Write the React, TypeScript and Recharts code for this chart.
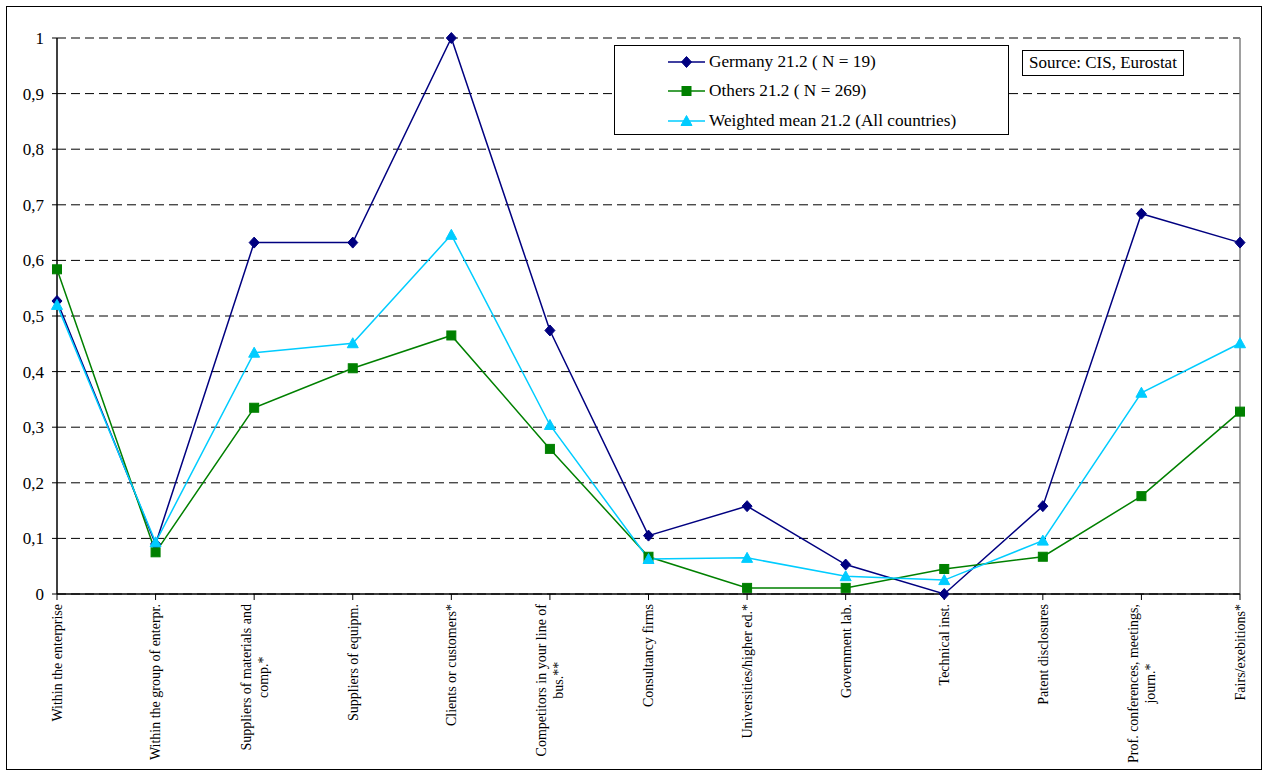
import React from "react";
import { CartesianGrid, Legend, Line, LineChart, ReferenceLine, XAxis, YAxis } from "recharts";

const categories = [
  "Within the enterprise",
  "Within the group of enterpr.",
  "Suppliers of materials and\ncomp.*",
  "Suppliers of equipm.",
  "Clients or customers*",
  "Competitors in your line of\nbus.**",
  "Consultancy firms",
  "Universities/higher ed.*",
  "Government lab.",
  "Technical inst.",
  "Patent disclosures",
  "Prof. conferences, meetings,\njourn.*",
  "Fairs/exebitions*",
];

const germany = [0.527, 0.09, 0.632, 0.632, 1.0, 0.474, 0.105, 0.158, 0.053, 0.0, 0.158, 0.684, 0.632];
const others = [0.584, 0.075, 0.335, 0.406, 0.465, 0.261, 0.067, 0.011, 0.011, 0.045, 0.067, 0.176, 0.328];
const weighted = [0.52, 0.093, 0.434, 0.451, 0.646, 0.304, 0.063, 0.065, 0.032, 0.025, 0.096, 0.362, 0.451];

const yTicks = [0, 0.1, 0.2, 0.3, 0.4, 0.5, 0.6, 0.7, 0.8, 0.9, 1];

const seriesNames = ["Germany 21.2 ( N = 19)", "Others 21.2 ( N = 269)", "Weighted mean 21.2 (All countries)"];
const seriesColors = ["#000080", "#008000", "#00CCFF"];

const data = categories.map((name, i) => ({
  name,
  germany: germany[i],
  others: others[i],
  weighted: weighted[i],
}));

const FONT = "Liberation Serif";

let ctx: CanvasRenderingContext2D | null = null;
function textWidth(s: string, size: number) {
  if (!ctx) ctx = document.createElement("canvas").getContext("2d");
  if (!ctx) return s.length * size * 0.45;
  ctx.font = `${size}px "${FONT}"`;
  return ctx.measureText(s).width;
}

// rotated labels, multi-line blocks centred on the tick
function CategoryTick(props: any) {
  const { x, y, payload } = props;
  const lines = String(payload.value).split("\n");
  const size = 14;
  const lh = 17;
  const maxW = Math.max(...lines.map((l) => textWidth(l, size)));
  const cx = -(2 + maxW / 2);
  return (
    <g transform={`translate(${x},${y})`}>
      <text transform="rotate(-90)" style={{ fontFamily: FONT }} fontSize={size} fill="#000" textAnchor="middle">
        {lines.map((l, i) => (
          <tspan key={i} x={cx} y={(i - (lines.length - 1) / 2) * lh} dy="0.35em">
            {l}
          </tspan>
        ))}
      </text>
    </g>
  );
}

function Diamond({ cx, cy, fill }: any) {
  if (cx == null || cy == null) return null;
  return <path d={`M${cx},${cy - 5.5}L${cx + 5},${cy}L${cx},${cy + 5.5}L${cx - 5},${cy}Z`} fill={fill} stroke={fill} />;
}
function Square({ cx, cy, fill }: any) {
  if (cx == null || cy == null) return null;
  return <rect x={cx - 4.5} y={cy - 4.5} width={9} height={9} fill={fill} stroke={fill} />;
}
function Triangle({ cx, cy, fill }: any) {
  if (cx == null || cy == null) return null;
  return <path d={`M${cx},${cy - 5.5}L${cx + 5.5},${cy + 4.5}L${cx - 5.5},${cy + 4.5}Z`} fill={fill} stroke={fill} />;
}
const markers = [Diamond, Square, Triangle];

function LegendBox() {
  return (
    <div
      style={{
        width: 395,
        height: 90,
        border: "1px solid #000",
        background: "#fff",
        fontFamily: FONT,
        fontSize: 17.25,
        color: "#000",
        boxSizing: "border-box",
        paddingTop: 1,
      }}
    >
      {seriesNames.map((n, i) => {
        const M = markers[i];
        return (
          <div key={n} style={{ display: "flex", alignItems: "center", height: 29.5 }}>
            <svg width={38} height={14} style={{ marginLeft: 53, marginRight: 3 }}>
              <line x1={0} y1={7} x2={37} y2={7} stroke={seriesColors[i]} strokeWidth={1.5} />
              <M cx={18.5} cy={7} fill={seriesColors[i]} />
            </svg>
            <span>{n}</span>
          </div>
        );
      })}
    </div>
  );
}

export default function App() {
  return (
    <div style={{ position: "absolute", left: 0, top: 0, width: 1269, height: 772, background: "#fff", fontFamily: FONT }}>
      <div
        style={{
          position: "absolute",
          left: 6,
          top: 6,
          width: 1256,
          height: 764,
          border: "1px solid #000",
          boxSizing: "border-box",
        }}
      />
      <LineChart width={1269} height={772} data={data} margin={{ top: 38, right: 29, left: 7, bottom: 6 }} style={{ fontFamily: FONT }}>
        <CartesianGrid vertical={false} stroke="#000" strokeDasharray="9 5" />
        <XAxis
          dataKey="name"
          interval={0}
          height={172}
          tick={<CategoryTick />}
          tickSize={6}
          stroke="#000"
          axisLine={{ stroke: "#000", strokeWidth: 1.5 }}
        />
        <YAxis
          type="number"
          domain={[0, 1]}
          ticks={yTicks}
          width={50}
          tickSize={5}
          tickMargin={8}
          stroke="#000"
          axisLine={{ stroke: "#000", strokeWidth: 1.5 }}
          tick={{ fill: "#000", fontFamily: FONT, fontSize: 17 }}
          tickFormatter={(v: number) => String(v).replace(".", ",")}
        />
        <ReferenceLine x={categories[categories.length - 1]} stroke="#808080" strokeWidth={1.5} />
        <Legend
          layout="horizontal"
          verticalAlign="middle"
          content={() => <LegendBox />}
          wrapperStyle={{ position: "absolute", left: 614, top: 45, width: 395, height: 90 }}
        />
        <Line dataKey="germany" name={seriesNames[0]} stroke={seriesColors[0]} strokeWidth={1.5} dot={<Diamond fill={seriesColors[0]} />} isAnimationActive={false} />
        <Line dataKey="others" name={seriesNames[1]} stroke={seriesColors[1]} strokeWidth={1.5} dot={<Square fill={seriesColors[1]} />} isAnimationActive={false} />
        <Line dataKey="weighted" name={seriesNames[2]} stroke={seriesColors[2]} strokeWidth={1.5} dot={<Triangle fill={seriesColors[2]} />} isAnimationActive={false} />
      </LineChart>
      <div
        style={{
          position: "absolute",
          left: 1022,
          top: 50,
          width: 162,
          height: 26,
          border: "1px solid #000",
          boxSizing: "border-box",
          fontFamily: FONT,
          fontSize: 17,
          lineHeight: "24px",
          textAlign: "center",
          background: "#fff",
        }}
      >
        Source: CIS, Eurostat
      </div>
    </div>
  );
}
